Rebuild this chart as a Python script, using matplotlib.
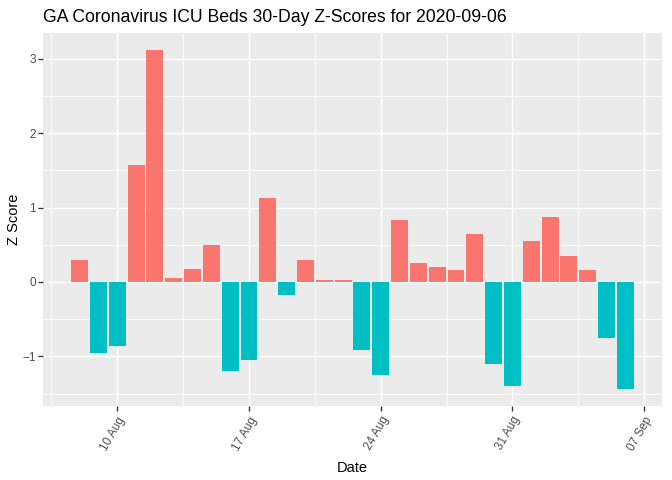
import matplotlib
matplotlib.use("Agg")
import matplotlib.pyplot as plt
import matplotlib.dates as mdates
import numpy as np
import pandas as pd

plt.rcParams['font.family'] = ['Liberation Sans', 'DejaVu Sans']

dates = pd.date_range("2020-08-08", "2020-09-06", freq="D")
z_scores = [0.30, -0.96, -0.86, 1.57, 3.12, 0.06, 0.17, 0.50, -1.20, -1.05,
            1.13, -0.18, 0.30, 0.02, 0.02, -0.91, -1.25, 0.83, 0.26, 0.20,
            0.16, 0.64, -1.10, -1.40, 0.55, 0.88, 0.35, 0.16, -0.76, -1.44]
title = "GA Coronavirus ICU Beds 30-Day Z-Scores for 2020-09-06"

pos_col, neg_col = "#F8766D", "#00BFC4"
colors = [pos_col if v >= 0 else neg_col for v in z_scores]

fig = plt.figure(figsize=(7, 5), dpi=96)
ax = fig.add_axes([43 / 672, 1 - 406 / 480, 619 / 672, 373 / 480])
ax.set_facecolor("#EBEBEB")

ax.bar(dates, z_scores, width=0.9, color=colors, zorder=3)

x0 = mdates.date2num(pd.Timestamp("2020-08-07 13:12"))
x1 = mdates.date2num(pd.Timestamp("2020-09-06 10:48"))
pad = (x1 - x0) * 0.05
ax.set_xlim(x0 - pad, x1 + pad)
y0, y1 = min(z_scores), max(z_scores)
ypad = (y1 - y0) * 0.05
ax.set_ylim(y0 - ypad, y1 + ypad)

major = pd.date_range("2020-08-10", "2020-09-07", freq="7D")
minor = pd.date_range("2020-08-06 12:00", "2020-09-07", freq="7D")
ax.set_xticks(mdates.date2num(major))
ax.set_xticks(mdates.date2num(minor), minor=True)
ax.set_xticklabels([d.strftime("%d %b") for d in major], rotation=60,
                   ha="right", va="top", rotation_mode="anchor")
ax.set_yticks([-1, 0, 1, 2, 3])
ax.set_yticks([-1.5, -0.5, 0.5, 1.5, 2.5], minor=True)

ax.grid(which="major", color="white", linewidth=1.1, zorder=1)
ax.grid(which="minor", color="white", linewidth=0.55, zorder=1)
ax.set_axisbelow(True)
for s in ax.spines.values():
    s.set_visible(False)

ax.tick_params(axis="both", which="major", length=3.5, width=1.0, color="#333333",
               labelcolor="#4D4D4D", labelsize=8.8, pad=2)
ax.tick_params(axis="both", which="minor", length=0)
ax.tick_params(axis="x", pad=3)

ax.set_xlabel("Date", fontsize=11, color="black", labelpad=6)
ax.set_ylabel("Z Score", fontsize=11, color="black", labelpad=1)
ax.set_title(title, fontsize=13.2, loc="left", color="black", pad=8)

fig.savefig("out.png", dpi=96)
